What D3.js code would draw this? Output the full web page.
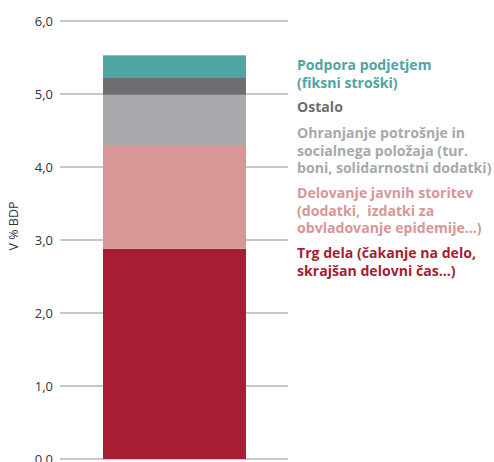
<!DOCTYPE html>
<html>
<head>
<meta charset="utf-8">
<script src="https://cdn.jsdelivr.net/npm/d3@7"></script>
<style>
  body { margin: 0; background: #fff; }
  text { font-family: "Open Sans", sans-serif; }
</style>
</head>
<body>
<div id="chart"></div>
<script>
var svgWidth = 494;
var svgHeight = 462;

// segments, bottom to top
var categories = ["Trg dela", "Delovanje javnih storitev", "Ohranjanje potrošnje", "Ostalo", "Podpora podjetjem"];
var values = [2.88, 1.42, 0.69, 0.24, 0.30];
var colors = ["#a71d33", "#d99696", "#a7a9ac", "#6d6e71", "#4fa4a4"];
var legendLines = [
  ["Trg dela (čakanje na delo,", "skrajšan delovni čas...)"],
  ["Delovanje javnih storitev", "(dodatki,  izdatki za", "obvladovanje epidemije…)"],
  ["Ohranjanje potrošnje in", "socialnega položaja (tur.", "boni, solidarnostni dodatki)"],
  ["Ostalo"],
  ["Podpora podjetjem", "(fiksni stroški)"]
];
var tickValues = [0, 1, 2, 3, 4, 5, 6];

var svg = d3.select("#chart")
  .append("svg")
  .attr("width", svgWidth)
  .attr("height", svgHeight);

var yScale = d3.scaleLinear()
  .domain([0, 6])
  .range([459, 21]);

var xLeft = 60, xRight = 288;
var barX = 103, barW = 143;

// gridlines
svg.append("g")
  .selectAll("line")
  .data(tickValues)
  .enter()
  .append("line")
  .attr("x1", xLeft)
  .attr("x2", xRight)
  .attr("y1", d => yScale(d))
  .attr("y2", d => yScale(d))
  .attr("stroke", "#b5b5b5")
  .attr("stroke-width", 1.3);

// tick labels
svg.append("g")
  .selectAll("text")
  .data(tickValues)
  .enter()
  .append("text")
  .attr("x", 53)
  .attr("y", d => yScale(d) + 4.5)
  .attr("text-anchor", "end")
  .attr("font-size", 13)
  .attr("fill", "#333")
  .text(d => d3.format(".1f")(d).replace(".", ","));

// axis title
svg.append("text")
  .attr("transform", "translate(18, 226) rotate(-90)")
  .attr("text-anchor", "middle")
  .attr("font-size", 12.5)
  .attr("fill", "#333")
  .text("V % BDP");

// stacked segments
var stacked = [];
var cum = 0;
values.forEach(function(v, i) {
  stacked.push({ y0: cum, y1: cum + v, color: colors[i] });
  cum += v;
});

svg.append("g")
  .selectAll("rect")
  .data(stacked)
  .enter()
  .append("rect")
  .attr("x", barX)
  .attr("width", barW)
  .attr("y", d => yScale(d.y1))
  .attr("height", d => yScale(d.y0) - yScale(d.y1))
  .attr("fill", d => d.color);

// legend text, top to bottom
var legendStart = [258, 198, 138, 112, 70];
var lineH = 17.5;
legendLines.forEach(function(lines, i) {
  var t = svg.append("text")
    .attr("x", 297)
    .attr("y", legendStart[i])
    .attr("font-size", 14.1)
    .attr("font-weight", 700)
    .style("white-space", "pre")
    .attr("fill", colors[i]);
  lines.forEach(function(line, j) {
    t.append("tspan")
      .attr("x", 297)
      .attr("dy", j === 0 ? 0 : lineH)
      .text(line);
  });
});
</script>
</body>
</html>
